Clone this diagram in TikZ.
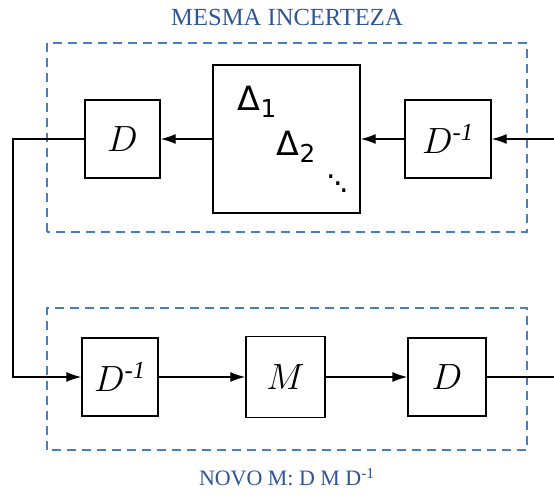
\documentclass[tikz,border=0pt]{standalone}
\usepackage{fontspec}
\setmainfont{Liberation Serif}
\newfontfamily\deltafont{DejaVu Sans}
\usetikzlibrary{arrows.meta, positioning}
\definecolor{titleblue}{HTML}{2F5597}
\definecolor{dashblue}{HTML}{4A7EC0}
\tikzstyle{block}=[draw,rectangle,line width=0.8pt,font=\fontsize{20}{24}\selectfont]
\tikzstyle{group}=[draw=dashblue,line width=1.2pt,dash pattern=on 0.18cm off 0.12cm]
\tikzstyle{caption}=[text=titleblue]
\tikzstyle{entry}=[font=\deltafont\fontsize{19}{22}\selectfont, inner sep=1pt]
\newcommand{\inv}[1]{$#1$\textsuperscript{\itshape -1}}
\newcommand{\sub}[1]{\raisebox{-0.35ex}{\fontsize{14}{16}\selectfont #1}}
\newcommand{\steepdots}{\raisebox{8pt}{.}\kern-1.7pt\raisebox{4pt}{.}\kern-1.7pt.}

\begin{document}
\begin{tikzpicture}[>={Latex[length=3mm,width=2mm]}, line width=0.8pt]
    \useasboundingbox (0,0) rectangle (11.08,9.9);
    % dashed groups
    \draw[group] (0.94,5.26) rectangle (10.54,9.04);
    \draw[group] (0.94,0.9) rectangle (10.54,3.74);
    \node[caption, font=\fontsize{14}{17}\selectfont] (top) at (5.74,9.56) {MESMA INCERTEZA};
    \node[caption, font=\fontsize{12.5}{15}\selectfont] (bot) at (5.74,0.36) {NOVO M: D M D\textsuperscript{-1}};
    % top row
    \node[block, minimum width=1.5cm, minimum height=1.56cm] (d1) at (2.45,7.12) {$D$};
    \node[block, minimum width=2.94cm, minimum height=2.96cm] (delta) at (5.73,7.12) {};
    \node[block, minimum width=1.72cm, minimum height=1.56cm] (dinv1) at (8.96,7.12) {\inv{D}};
    \node[entry] (del1) at (5.14,7.86) {Δ\sub{1}};
    \node[entry] (del2) at (5.92,6.96) {Δ\sub{2}};
    \node[entry, font=\deltafont\fontsize{17}{20}\selectfont, inner sep=0pt] (dots) at (6.76,6.22) {\steepdots};
    \coordinate (in) at (11.08,7.12);
    \draw[->] (in) -- (dinv1);
    \draw[->] (dinv1) -- (delta);
    \draw[->] (delta) -- (d1);
    % bottom row
    \node[block, minimum width=1.52cm, minimum height=1.56cm] (dinv2) at (2.4,2.36) {\inv{D}};
    \node[block, minimum width=1.58cm, minimum height=1.62cm] (m) at (5.71,2.36) {$M$};
    \node[block, minimum width=1.56cm, minimum height=1.56cm] (d2) at (8.94,2.36) {$D$};
    \coordinate (out) at (11.08,2.36);
    \coordinate (corner) at (0.26,7.12);
    \draw[->] (d1) -- (corner) |- (dinv2);
    \draw[->] (dinv2) -- (m);
    \draw[->] (m) -- (d2);
    \draw (d2) -- (out);
\end{tikzpicture}
\end{document}
